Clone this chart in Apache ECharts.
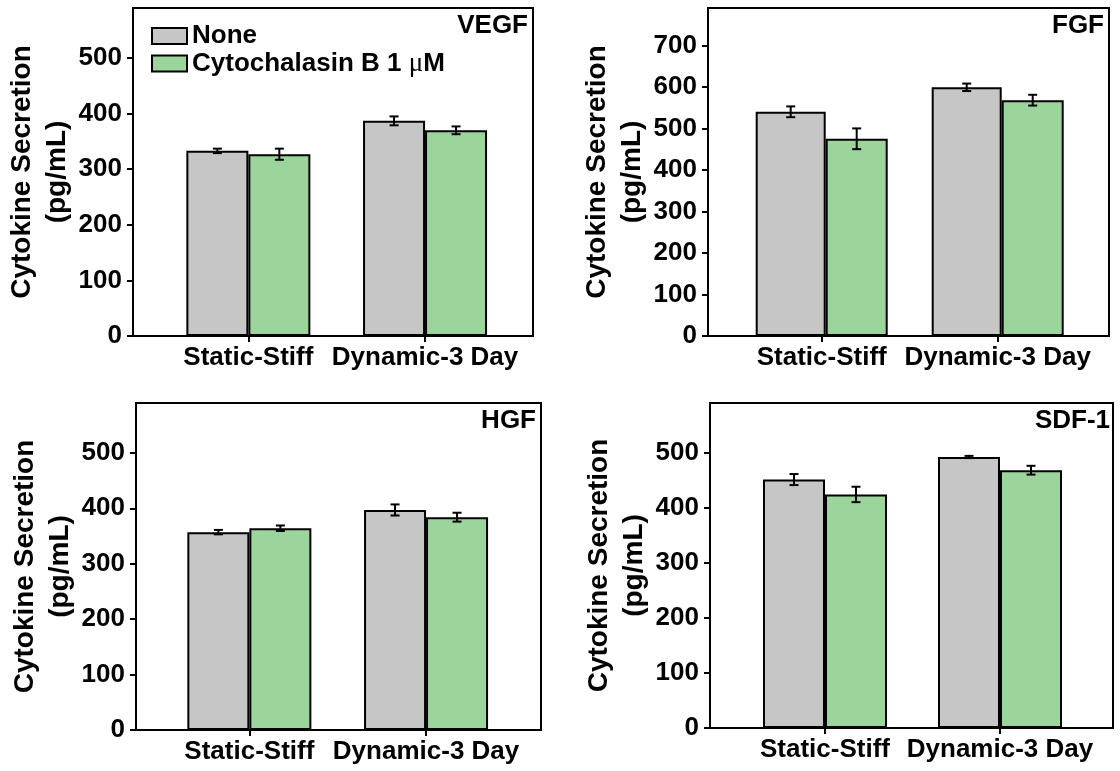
<!DOCTYPE html>
<html><head><meta charset="utf-8">
<script src="https://cdn.jsdelivr.net/npm/echarts@6/dist/echarts.min.js"></script>
<style>html,body{margin:0;padding:0;background:#fff}#c{width:1120px;height:771px}</style>
</head><body><div id="c"></div>
<script>
// ---------------- data ----------------
const categories = ['Static-Stiff', 'Dynamic-3 Day'];
const seriesNames = ['None', 'Cytochalasin B 1 μM'];
const panelTitles = ['VEGF', 'FGF', 'HGF', 'SDF-1'];
const yAxisTitle = 'Cytokine Secretion\n(pg/mL)';

const vegfNone = [333, 387], vegfNoneErr = [4, 8];
const vegfCyto = [327, 370], vegfCytoErr = [10, 7];
const fgfNone = [540, 599], fgfNoneErr = [13, 9];
const fgfCyto = [475, 568], fgfCytoErr = [25, 13];
const hgfNone = [357, 397], hgfNoneErr = [4, 10];
const hgfCyto = [364, 384], hgfCytoErr = [5, 8];
const sdfNone = [451, 492], sdfNoneErr = [10, 2];
const sdfCyto = [424, 468], sdfCytoErr = [14, 8];

const yTicks500 = [0, 100, 200, 300, 400, 500];
const yTicks700 = [0, 100, 200, 300, 400, 500, 600, 700];
const yMax500 = 590, yMax700 = 790;

// ---------------- layout / style ----------------
const FONT = "'Liberation Sans', Arial, sans-serif";
const GREY = '#c6c6c6', GREEN = '#9cd59c';
const panels = [
  {none: vegfNone, noneErr: vegfNoneErr, cyto: vegfCyto, cytoErr: vegfCytoErr, ticks: yTicks500, max: yMax500,
   frame: {left: 133, top: 8, width: 400, height: 328}, inner: {left: 160, width: 353.4}, barW: [62, 62], title: {right: 592, top: 13}},
  {none: fgfNone, noneErr: fgfNoneErr, cyto: fgfCyto, cytoErr: fgfCytoErr, ticks: yTicks700, max: yMax700,
   frame: {left: 708, top: 8, width: 401, height: 328}, inner: {left: 733.7, width: 352}, barW: [70, 62], title: {right: 16, top: 13}},
  {none: hgfNone, noneErr: hgfNoneErr, cyto: hgfCyto, cytoErr: hgfCytoErr, ticks: yTicks500, max: yMax500,
   frame: {left: 136, top: 403, width: 405, height: 327}, inner: {left: 161, width: 353.4}, barW: [62, 62], title: {right: 584, top: 408}},
  {none: sdfNone, noneErr: sdfNoneErr, cyto: sdfCyto, cytoErr: sdfCytoErr, ticks: yTicks500, max: yMax500,
   frame: {left: 710, top: 403, width: 403, height: 325}, inner: {left: 737.5, width: 350}, barW: [62, 62], title: {right: 10, top: 408}}
];

function errRenderer(wG, wN, which) {
  return function (params, api) {
    const ci = api.value(0), v = api.value(1), e = api.value(2);
    const base = api.coord([ci, v]);
    const yTop = api.coord([ci, v + e])[1];
    const yBot = api.coord([ci, v - e])[1];
    const x = base[0] - (wG + wN) / 2 + (which === 0 ? wG / 2 : wG + wN / 2);
    const cap = 4.5;
    const st = {stroke: '#000', lineWidth: 2};
    return {type: 'group', children: [
      {type: 'line', shape: {x1: x, y1: yTop, x2: x, y2: yBot}, style: st},
      {type: 'line', shape: {x1: x - cap, y1: yTop, x2: x + cap, y2: yTop}, style: st},
      {type: 'line', shape: {x1: x - cap, y1: yBot, x2: x + cap, y2: yBot}, style: st}
    ]};
  };
}

const grid = [], xAxis = [], yAxis = [], series = [], title = [];
panels.forEach((p, i) => {
  const f = p.frame;
  grid.push({left: f.left, top: f.top, width: f.width, height: f.height, show: true,
             borderColor: '#000', borderWidth: 2, backgroundColor: 'transparent', containLabel: false});
  grid.push({left: p.inner.left, top: f.top, width: p.inner.width, height: f.height, show: false, containLabel: false});
  const oi = 2 * i, ii = 2 * i + 1;
  xAxis.push({gridIndex: oi, type: 'value', show: false});
  xAxis.push({gridIndex: ii, type: 'category', data: categories,
    axisLine: {show: false},
    axisTick: {show: true, alignWithLabel: true, length: 6, lineStyle: {color: '#000', width: 2}},
    axisLabel: {interval: 0, margin: 9, fontSize: 26, fontWeight: 'bold', color: '#000', fontFamily: FONT}});
  yAxis.push({gridIndex: oi, type: 'value', min: 0, max: p.max,
    name: yAxisTitle, nameLocation: 'middle', nameRotate: 90, nameGap: 58,
    nameTextStyle: {fontSize: 28, fontWeight: 'bold', color: '#000', lineHeight: 35, fontFamily: FONT},
    axisLine: {show: false},
    axisTick: {show: true, length: 6, lineStyle: {color: '#000', width: 2}, customValues: p.ticks},
    axisLabel: {margin: 11, fontSize: 26, fontWeight: 'bold', color: '#000', fontFamily: FONT, customValues: p.ticks},
    splitLine: {show: false}});
  yAxis.push({gridIndex: ii, type: 'value', min: 0, max: p.max, show: false, splitLine: {show: false}});

  const itemBase = {borderColor: '#000', borderWidth: 2};
  series.push({name: seriesNames[0], type: 'bar', xAxisIndex: ii, yAxisIndex: ii, data: p.none,
    barWidth: p.barW[0], barGap: '0%', itemStyle: Object.assign({color: GREY}, itemBase), z: 2});
  series.push({name: seriesNames[1], type: 'bar', xAxisIndex: ii, yAxisIndex: ii, data: p.cyto,
    barWidth: p.barW[1], barGap: '0%', itemStyle: Object.assign({color: GREEN}, itemBase), z: 2});
  series.push({type: 'custom', xAxisIndex: ii, yAxisIndex: ii, z: 5, silent: true,
    data: categories.map((c, k) => [k, p.none[k], p.noneErr[k]]),
    encode: {x: 0, y: 1}, renderItem: errRenderer(p.barW[0], p.barW[1], 0)});
  series.push({type: 'custom', xAxisIndex: ii, yAxisIndex: ii, z: 5, silent: true,
    data: categories.map((c, k) => [k, p.cyto[k], p.cytoErr[k]]),
    encode: {x: 0, y: 1}, renderItem: errRenderer(p.barW[0], p.barW[1], 1)});
  title.push({text: panelTitles[i], right: p.title.right, top: p.title.top, padding: 0,
    textStyle: {fontSize: 26, fontWeight: 'bold', color: '#000', fontFamily: FONT}});
});

const option = {
  animation: false,
  backgroundColor: '#fff',
  textStyle: {fontFamily: FONT},
  title: title,
  legend: {data: seriesNames.map(n => ({name: n, icon: 'rect'})), orient: 'vertical', left: 146, top: 18,
    itemWidth: 35, itemHeight: 16, itemGap: 1, selectedMode: false,
    itemStyle: {borderColor: '#000', borderWidth: 2},
    formatter: n => n.replace('μ', '{mu|μ}'),
    textStyle: {fontSize: 26, fontWeight: 'bold', color: '#000', lineHeight: 22, fontFamily: FONT,
      rich: {mu: {fontFamily: "'Liberation Serif', 'Times New Roman', serif", fontWeight: 'normal', fontSize: 27, lineHeight: 22, color: '#000'}}}},
  grid: grid, xAxis: xAxis, yAxis: yAxis, series: series
};
echarts.init(document.getElementById('c'), null, {renderer: 'canvas'}).setOption(option);
</script>
</body></html>
